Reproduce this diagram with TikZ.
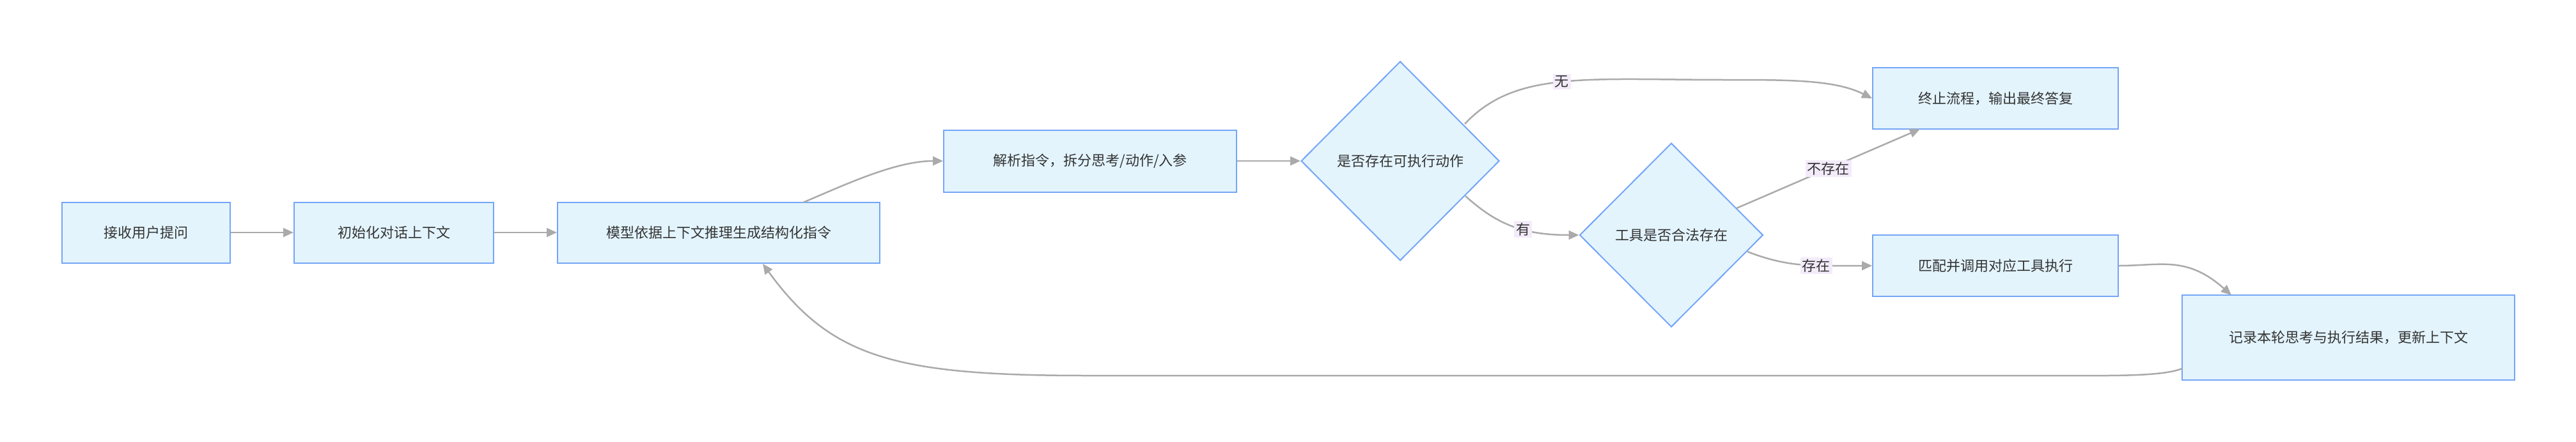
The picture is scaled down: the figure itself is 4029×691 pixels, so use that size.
\documentclass[tikz,border=0pt]{standalone}
\usepackage{fontspec}
\setmainfont{Noto Sans CJK SC}
\usetikzlibrary{shapes.geometric,arrows.meta}
\definecolor{boxfill}{HTML}{E3F4FD}
\definecolor{boxline}{HTML}{74A5F7}
\definecolor{edge}{HTML}{AAAAAA}
\definecolor{lblbg}{HTML}{F3EBFA}
\definecolor{txt}{HTML}{333333}
\begin{document}
\begin{tikzpicture}[x=1pt,y=-1pt,
  every node/.style={font=\fontsize{22}{30}\selectfont,text=txt},
  box/.style={draw=boxline,fill=boxfill,line width=2pt,rectangle,inner sep=0pt,align=center},
  dia/.style={draw=boxline,fill=boxfill,line width=2pt,diamond,inner sep=0pt},
  conn/.style={draw=edge,line width=2.5pt,-{Triangle[width=14pt,length=16pt]}},
  lbl/.style={fill=lblbg,inner sep=3pt}]
\useasboundingbox (0,0) rectangle (4029,691);
\node[box,minimum width=263,minimum height=95] (A) at (228,364) {接收用户提问};
\node[box,minimum width=312,minimum height=95] (B) at (616,364) {初始化对话上下文};
\node[box,minimum width=504,minimum height=95] (C) at (1124,364) {模型依据上下文推理生成结构化指令};
\node[box,minimum width=458,minimum height=97] (D) at (1705,252) {解析指令，拆分思考/动作/入参};
\node[dia,minimum width=310,minimum height=312] (Q1) at (2190,252) {是否存在可执行动作};
\node[dia,minimum width=287,minimum height=288] (Q2) at (2614,368) {工具是否合法存在};
\node[box,minimum width=384,minimum height=96] (E) at (3121,154) {终止流程，输出最终答复};
\node[box,minimum width=384,minimum height=96] (F) at (3121,416) {匹配并调用对应工具执行};
\node[box,minimum width=520,minimum height=133,text width=400] (G) at (3673,528) {记录本轮思考与执行结果，更新上下文};
\coordinate (c1) at (1256,317);
\coordinate (q1a) at (2291,194);
\coordinate (q1b) at (2292,307);
\coordinate (q2a) at (2716,326);
\coordinate (q2b) at (2733,394);
\coordinate (e1) at (3003,202);
\coordinate (g1) at (3490,462);
\coordinate (g2) at (3413,577);
\coordinate (c2) at (1193,413);
\draw[conn] (A) -- (B);
\draw[conn] (B) -- (C);
\draw[conn] (c1) .. controls (1320,290) and (1400,252) .. (D.west);
\draw[conn] (D) -- (Q1);
\draw[conn] (q1a) .. controls (2370,110) and (2480,125) .. node[lbl,pos=0.5]{无} (2700,125) .. controls (2800,125) and (2870,125) .. (E.west);
\draw[conn] (q1b) .. controls (2340,350) and (2380,368) .. node[lbl,pos=0.6]{有} (Q2.west);
\draw[conn] (q2a) -- node[lbl,pos=0.5]{不存在} (e1);
\draw[conn] (q2b) .. controls (2800,420) and (2840,416) .. node[lbl,pos=0.6]{存在} (F.west);
\draw[conn] (F.east) .. controls (3380,416) and (3420,400) .. (g1);
\draw[conn] (g2) .. controls (3380,590) and (3300,588) .. (3200,588) -- (1700,588) .. controls (1400,588) and (1300,560) .. (c2);
\end{tikzpicture}
\end{document}
